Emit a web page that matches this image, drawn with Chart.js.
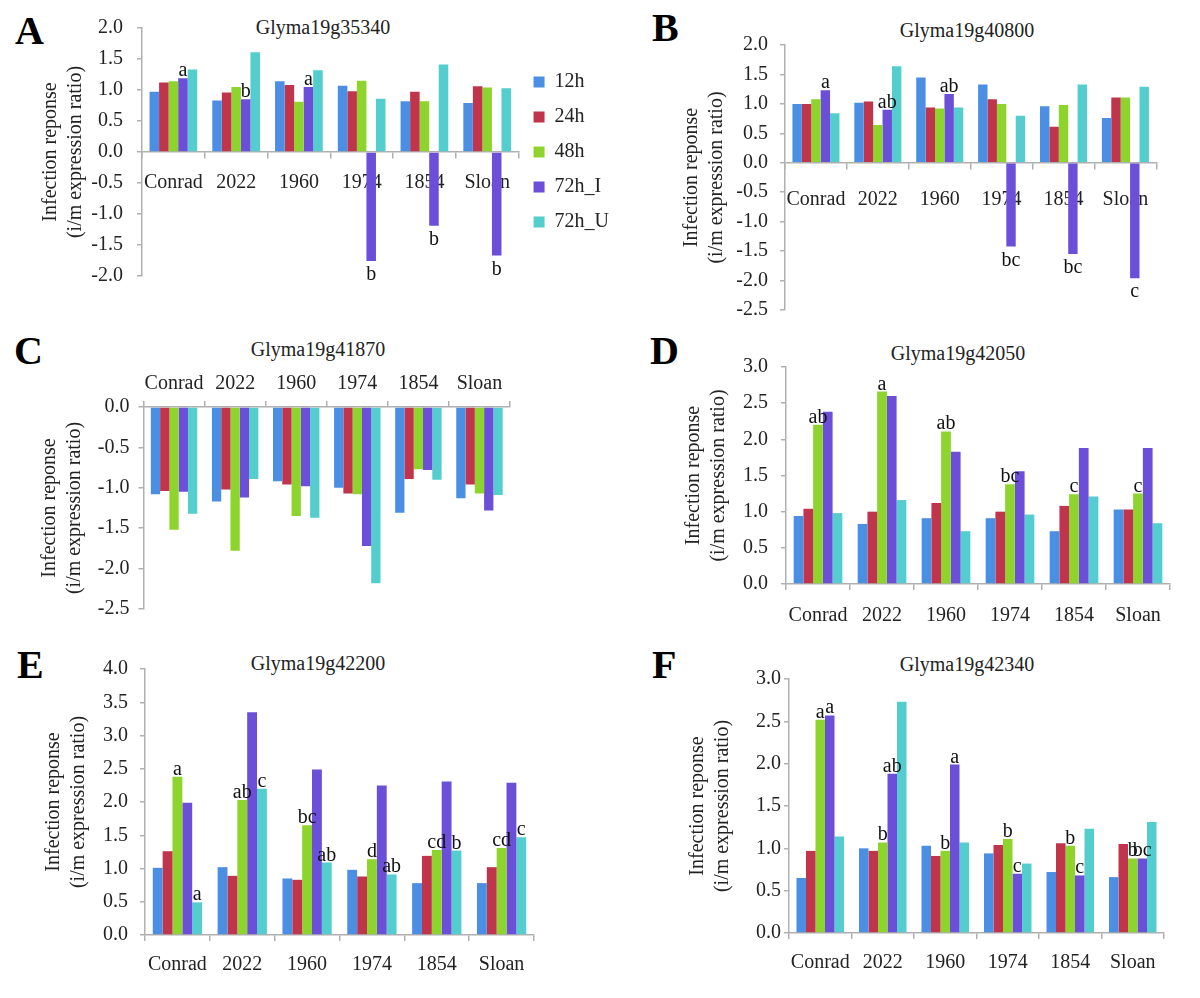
<!DOCTYPE html>
<html>
<head>
<meta charset="utf-8">
<script src="https://cdn.jsdelivr.net/npm/chart.js@4.4.1/dist/chart.umd.min.js"></script>
<style>
  html, body { margin:0; padding:0; background:#fff; }
  body { width:1200px; height:998px; position:relative; overflow:hidden; font-family:'Liberation Serif','Times New Roman',serif; }
  canvas { position:absolute; }
  .letter { position:absolute; font-weight:bold; font-size:40px; line-height:40px; color:#000; }
  .gtitle { position:absolute; font-size:20px; line-height:24px; height:24px; color:#222; white-space:nowrap; transform:translateX(-50%); }
</style>
</head>
<body>
<div class="letter" style="left:15px;top:11px">A</div>
<div class="letter" style="left:652px;top:8px">B</div>
<div class="letter" style="left:14px;top:331px">C</div>
<div class="letter" style="left:650px;top:331px">D</div>
<div class="letter" style="left:17px;top:645px">E</div>
<div class="letter" style="left:652px;top:645px">F</div>

<div class="gtitle" style="left:323px;top:15px">Glyma19g35340</div>
<div class="gtitle" style="left:967px;top:18px">Glyma19g40800</div>
<div class="gtitle" style="left:318px;top:337px">Glyma19g41870</div>
<div class="gtitle" style="left:958px;top:341px">Glyma19g42050</div>
<div class="gtitle" style="left:318px;top:651px">Glyma19g42200</div>
<div class="gtitle" style="left:967px;top:652px">Glyma19g42340</div>

<canvas id="cA" width="619" height="302" style="left:0px;top:0px"></canvas>
<canvas id="cB" width="568" height="334" style="left:600px;top:0px"></canvas>
<canvas id="cC" width="520" height="300" style="left:0px;top:330px"></canvas>
<canvas id="cD" width="580" height="292" style="left:600px;top:342px"></canvas>
<canvas id="cE" width="544" height="340" style="left:0px;top:645px"></canvas>
<canvas id="cF" width="574" height="324" style="left:600px;top:659px"></canvas>

<script>
// ---------- data ----------
const categories = ['Conrad', '2022', '1960', '1974', '1854', 'Sloan'];
const seriesNames = ['12h', '24h', '48h', '72h_I', '72h_U'];
const yTitleLines = ['Infection reponse', '(i/m expression ratio)'];

// A  Glyma19g35340
const a12  = [0.97, 0.83, 1.14, 1.07, 0.82, 0.79];
const a24  = [1.12, 0.96, 1.08, 0.98, 0.97, 1.06];
const a48  = [1.14, 1.05, 0.81, 1.15, 0.82, 1.04];
const a72I = [1.19, 0.85, 1.05, -1.76, -1.19, -1.67];
const a72U = [1.33, 1.61, 1.32, 0.86, 1.41, 1.03];
const lettersA = [[0,3,'a'],[1,3,'b'],[2,3,'a'],[3,3,'b'],[4,3,'b'],[5,3,'b']];

// B  Glyma19g40800
const b12  = [1.00, 1.02, 1.45, 1.33, 0.96, 0.76];
const b24  = [1.00, 1.04, 0.94, 1.08, 0.61, 1.11];
const b48  = [1.08, 0.64, 0.92, 1.00, 0.98, 1.11];
const b72I = [1.23, 0.90, 1.17, -1.42, -1.55, -1.96];
const b72U = [0.84, 1.64, 0.94, 0.80, 1.33, 1.29];
const lettersB = [[0,3,'a'],[1,3,'ab'],[2,3,'ab'],[3,3,'bc'],[4,3,'bc'],[5,3,'c']];

// C  Glyma19g41870
const c12  = [-1.08, -1.17, -0.92, -1.00, -1.31, -1.13];
const c24  = [-1.04, -1.02, -0.96, -1.07, -0.89, -0.96];
const c48  = [-1.52, -1.78, -1.35, -1.08, -0.77, -1.07];
const c72I = [-1.05, -1.12, -0.98, -1.72, -0.78, -1.28];
const c72U = [-1.32, -0.89, -1.37, -2.18, -0.90, -1.09];
const lettersC = [];

// D  Glyma19g42050
const d12  = [0.94, 0.83, 0.91, 0.91, 0.73, 1.03];
const d24  = [1.04, 1.00, 1.12, 1.00, 1.08, 1.03];
const d48  = [2.20, 2.66, 2.11, 1.38, 1.24, 1.25];
const d72I = [2.38, 2.60, 1.83, 1.56, 1.88, 1.88];
const d72U = [0.98, 1.16, 0.73, 0.96, 1.21, 0.84];
const lettersD = [[0,2,'ab'],[1,2,'a'],[2,2,'ab'],[3,2,'bc'],[4,2,'c'],[5,2,'c']];

// E  Glyma19g42200
const e12  = [1.01, 1.02, 0.85, 0.98, 0.78, 0.78];
const e24  = [1.26, 0.89, 0.83, 0.88, 1.19, 1.02];
const e48  = [2.38, 2.03, 1.65, 1.14, 1.28, 1.31];
const e72I = [1.99, 3.35, 2.49, 2.25, 2.31, 2.29];
const e72U = [0.49, 2.20, 1.09, 0.91, 1.27, 1.47];
const lettersE = [[0,2,'a'],[0,4,'a'],[1,2,'ab'],[1,4,'c'],[2,2,'bc'],[2,4,'ab'],
                  [3,2,'d'],[3,4,'ab'],[4,2,'cd'],[4,4,'b'],[5,2,'cd'],[5,4,'c']];

// F  Glyma19g42340
const f12  = [0.65, 1.00, 1.03, 0.94, 0.72, 0.66];
const f24  = [0.97, 0.97, 0.91, 1.04, 1.06, 1.05];
const f48  = [2.52, 1.07, 0.97, 1.11, 1.03, 0.88];
const f72I = [2.57, 1.88, 1.99, 0.70, 0.68, 0.88];
const f72U = [1.14, 2.73, 1.07, 0.82, 1.23, 1.31];
const lettersF = [[0,2,'a'],[0,3,'a'],[1,2,'b'],[1,3,'ab'],[2,2,'b'],[2,3,'a'],
                  [3,2,'b'],[3,3,'c'],[4,2,'b'],[4,3,'c'],[5,2,'b'],[5,3,'bc']];

// ---------- styling ----------
const FONT = '"Liberation Serif", "Times New Roman", serif';
const COLORS = ['#4A8FE3', '#C0354C', '#8DD52D', '#6B4FD9', '#53CDCD'];
const AXIS = '#b0b0b0';
const TEXT = '#222';

const letterPlugin = {
  id: 'sigLetters',
  afterDatasetsDraw(chart, args, opts) {
    const list = opts.letters || [];
    const ctx = chart.ctx;
    ctx.save();
    ctx.font = '20px ' + FONT;
    ctx.fillStyle = '#111';
    ctx.textAlign = 'center';
    list.forEach(([ci, si, txt]) => {
      const bar = chart.getDatasetMeta(si).data[ci];
      const v = chart.data.datasets[si].data[ci];
      if (v >= 0) { ctx.textBaseline = 'alphabetic'; ctx.fillText(txt, bar.x, bar.y - 2); }
      else { ctx.textBaseline = 'top'; ctx.fillText(txt, bar.x, bar.y + 4); }
    });
    ctx.restore();
  }
};

function makeChart(id, p) {
  const datasets = p.series.map((vals, i) => ({
    label: seriesNames[i], data: vals, backgroundColor: COLORS[i],
    borderWidth: 0, categoryPercentage: 0.76, barPercentage: 1.0
  }));
  const xScale = {
    type: 'category',
    position: p.xPos,
    offset: true,
    grid: { display: true, drawOnChartArea: false, drawTicks: true, tickLength: 6, color: AXIS, offset: true, lineWidth: 1.5 },
    border: { display: true, color: AXIS, width: 1.5 },
    ticks: { font: { family: FONT, size: 20 }, color: TEXT, padding: p.xPad, autoSkip: false, maxRotation: 0 }
  };
  if (p.xH !== undefined) xScale.afterFit = s => { s.height = p.xH; };
  new Chart(document.getElementById(id), {
    type: 'bar',
    data: { labels: categories, datasets },
    plugins: [letterPlugin],
    options: {
      responsive: false, animation: false, devicePixelRatio: 1,
      layout: { padding: { top: p.padTop, bottom: p.padBottom, left: 0, right: p.padRight } },
      scales: {
        x: xScale,
        y: {
          min: p.min, max: p.max,
          afterFit: s => { s.width = p.yW; },
          grid: { display: true, drawOnChartArea: false, drawTicks: true, tickLength: 5, color: AXIS, lineWidth: 1.5 },
          border: { display: true, color: AXIS, width: 1.5 },
          ticks: { stepSize: 0.5, padding: p.yPad, font: { family: FONT, size: 20 }, color: TEXT,
                   callback: v => Number(v).toFixed(1) },
          title: { display: true, text: yTitleLines, color: TEXT,
                   font: { family: FONT, size: 20, lineHeight: 1.25 },
                   padding: { top: p.titlePad, bottom: 0 } }
        }
      },
      plugins: {
        legend: p.legend ? {
          display: true, position: 'right', align: 'center', fullSize: false,
          labels: { boxWidth: 11, boxHeight: 11, padding: 15, color: TEXT, font: { family: FONT, size: 20 } }
        } : { display: false },
        tooltip: { enabled: false },
        sigLetters: { letters: p.letters }
      }
    }
  });
}

function drawAll() {
  Chart.defaults.font.family = FONT;
  makeChart('cA', { series: [a12, a24, a48, a72I, a72U], letters: lettersA, min: -2, max: 2,
    xPos: { y: 0 }, xPad: 13, padTop: 28, padBottom: 15, padRight: 0, yW: 142, yPad: 14, titlePad: 38.5, legend: true });
  makeChart('cB', { series: [b12, b24, b48, b72I, b72U], letters: lettersB, min: -2.5, max: 2,
    xPos: { y: 0 }, xPad: 19, padTop: 45, padBottom: 15, padRight: 10, yW: 185, yPad: 12, titlePad: 79.5 });
  makeChart('cC', { series: [c12, c24, c48, c72I, c72U], letters: lettersC, min: -2.5, max: 0,
    xPos: 'top', xPad: 5, xH: 77, padTop: 0, padBottom: 15, padRight: 10, yW: 143.5, yPad: 9, titlePad: 37.5 });
  makeChart('cD', { series: [d12, d24, d48, d72I, d72U], letters: lettersD, min: 0, max: 3,
    xPos: 'bottom', xPad: 14, xH: 50, padTop: 20, padBottom: 0, padRight: 10, yW: 186, yPad: 13, titlePad: 81.5 });
  makeChart('cE', { series: [e12, e24, e48, e72I, e72U], letters: lettersE, min: 0, max: 4,
    xPos: 'bottom', xPad: 12, xH: 50, padTop: 20, padBottom: 0, padRight: 10, yW: 145, yPad: 12, titlePad: 41.5 });
  makeChart('cF', { series: [f12, f24, f48, f72I, f72U], letters: lettersF, min: 0, max: 3,
    xPos: 'bottom', xPad: 12, xH: 50, padTop: 20, padBottom: 0, padRight: 10, yW: 189, yPad: 3, titlePad: 85.5 });
}

let drawn = false;
function go() { if (!drawn) { drawn = true; drawAll(); } }
if (document.fonts && document.fonts.load) {
  document.fonts.load('20px "Liberation Serif"').then(go, go);
  setTimeout(go, 300);
} else { go(); }
</script>
</body>
</html>
